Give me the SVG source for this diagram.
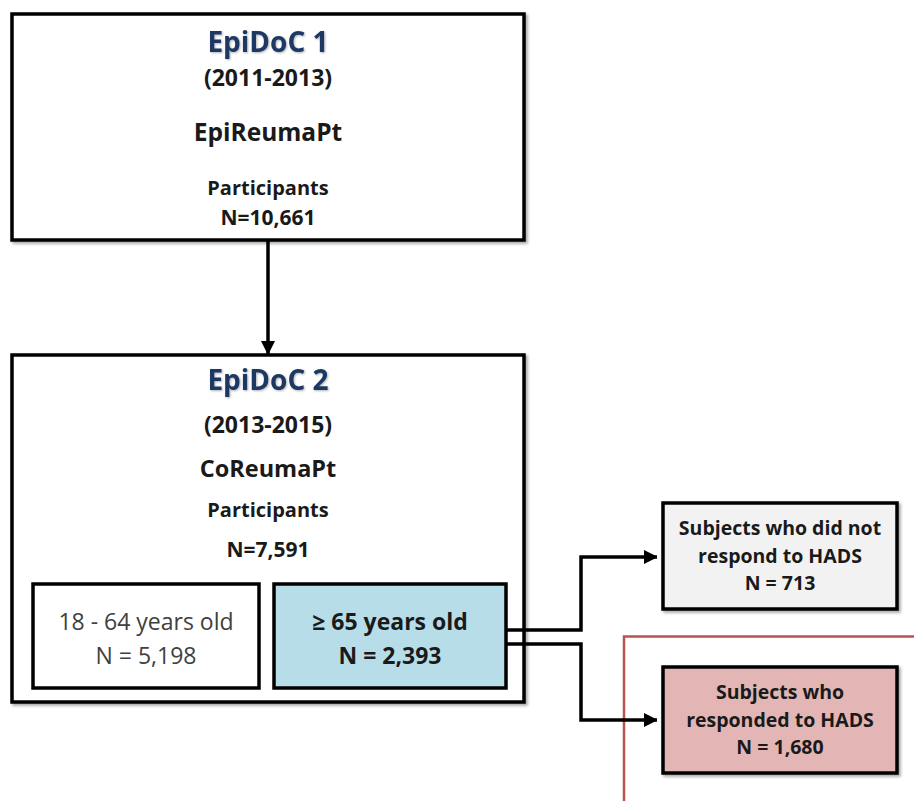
<svg xmlns="http://www.w3.org/2000/svg" width="914" height="801" viewBox="0 0 914 801">
<defs>
<filter id="sh" x="-10%" y="-10%" width="120%" height="120%">
<feDropShadow dx="2" dy="2" stdDeviation="1.5" flood-color="#000" flood-opacity="0.35"/>
</filter>
<filter id="glow" x="-10%" y="-20%" width="120%" height="140%">
<feDropShadow dx="1" dy="1" stdDeviation="1" flood-color="#000" flood-opacity="0.3"/>
</filter>
<marker id="ah" viewBox="0 0 12 14" refX="13" refY="7" markerWidth="12" markerHeight="14" markerUnits="userSpaceOnUse" orient="auto">
<path d="M0,0 L14,7 L0,14 Z" fill="#000"/>
</marker>
</defs>
<style>
.box{stroke:#000;stroke-width:3.5;}
.t{font-family:"Open Sans","Liberation Sans",sans-serif;font-weight:bold;fill:#1a1a1a;text-anchor:middle;}
.r{font-family:"Open Sans","Liberation Sans",sans-serif;font-weight:normal;fill:#404040;text-anchor:middle;}
.ttl{font-family:"Open Sans","Liberation Sans",sans-serif;font-weight:bold;fill:#1f3864;text-anchor:middle;font-size:28px;}
.rt{font-size:19.5px;}
.conn{fill:none;stroke:#000;stroke-width:3.5;}
</style>
<rect x="624" y="636.5" width="300" height="200" fill="none" stroke="#b85450" stroke-width="2.5"/>
<g id="epidoc1">
<rect class="box" x="12" y="14" width="512" height="226" fill="#fff" filter="url(#sh)"/>
<text class="ttl" x="268" y="52" filter="url(#glow)">EpiDoC 1</text>
<text class="t" x="268" y="86" font-size="23">(2011-2013)</text>
<text class="t" x="268" y="141" font-size="24.5">EpiReumaPt</text>
<text class="t" x="268" y="195" font-size="20">Participants</text>
<text class="t" x="268" y="225" font-size="21">N=10,661</text>
</g>
<g id="epidoc2">
<rect class="box" x="12" y="355" width="512" height="347" fill="#fff" filter="url(#sh)"/>
<text class="ttl" x="268" y="390" filter="url(#glow)">EpiDoC 2</text>
<text class="t" x="268" y="433" font-size="23">(2013-2015)</text>
<text class="t" x="268" y="477" font-size="23.5">CoReumaPt</text>
<text class="t" x="268" y="517" font-size="20">Participants</text>
<text class="t" x="268" y="557" font-size="21">N=7,591</text>
</g>
<g id="age18_64">
<rect class="box" x="33" y="584" width="226" height="104" fill="#fff"/>
<text class="r" x="146" y="630" font-size="23">18 - 64 years old</text>
<text class="r" x="146" y="664" font-size="23">N = 5,198</text>
</g>
<g id="age65">
<rect class="box" x="274" y="584" width="232" height="104" fill="#b7dde8"/>
<text class="t" x="390" y="630" font-size="23">≥ 65 years old</text>
<text class="t" x="390" y="664" font-size="23">N = 2,393</text>
</g>
<g id="noresp">
<rect class="box" x="663" y="503" width="234" height="106" fill="#f2f2f2" filter="url(#sh)"/>
<text class="t rt" x="780" y="535">Subjects who did not</text>
<text class="t rt" x="780" y="563">respond to HADS</text>
<text class="t rt" x="780" y="590">N = 713</text>
</g>
<g id="resp">
<rect class="box" x="663" y="667" width="234" height="106" fill="#e3b6b5" filter="url(#sh)"/>
<text class="t rt" x="780" y="699">Subjects who</text>
<text class="t rt" x="780" y="727">responded to HADS</text>
<text class="t rt" x="780" y="754">N = 1,680</text>
</g>
<g id="connectors">
<line class="conn" x1="268" y1="240" x2="268" y2="354" marker-end="url(#ah)"/>
<polyline class="conn" points="506,630 581,630 581,557 657,557" marker-end="url(#ah)"/>
<polyline class="conn" points="506,644 581,644 581,720 657,720" marker-end="url(#ah)"/>
</g>
</svg>
